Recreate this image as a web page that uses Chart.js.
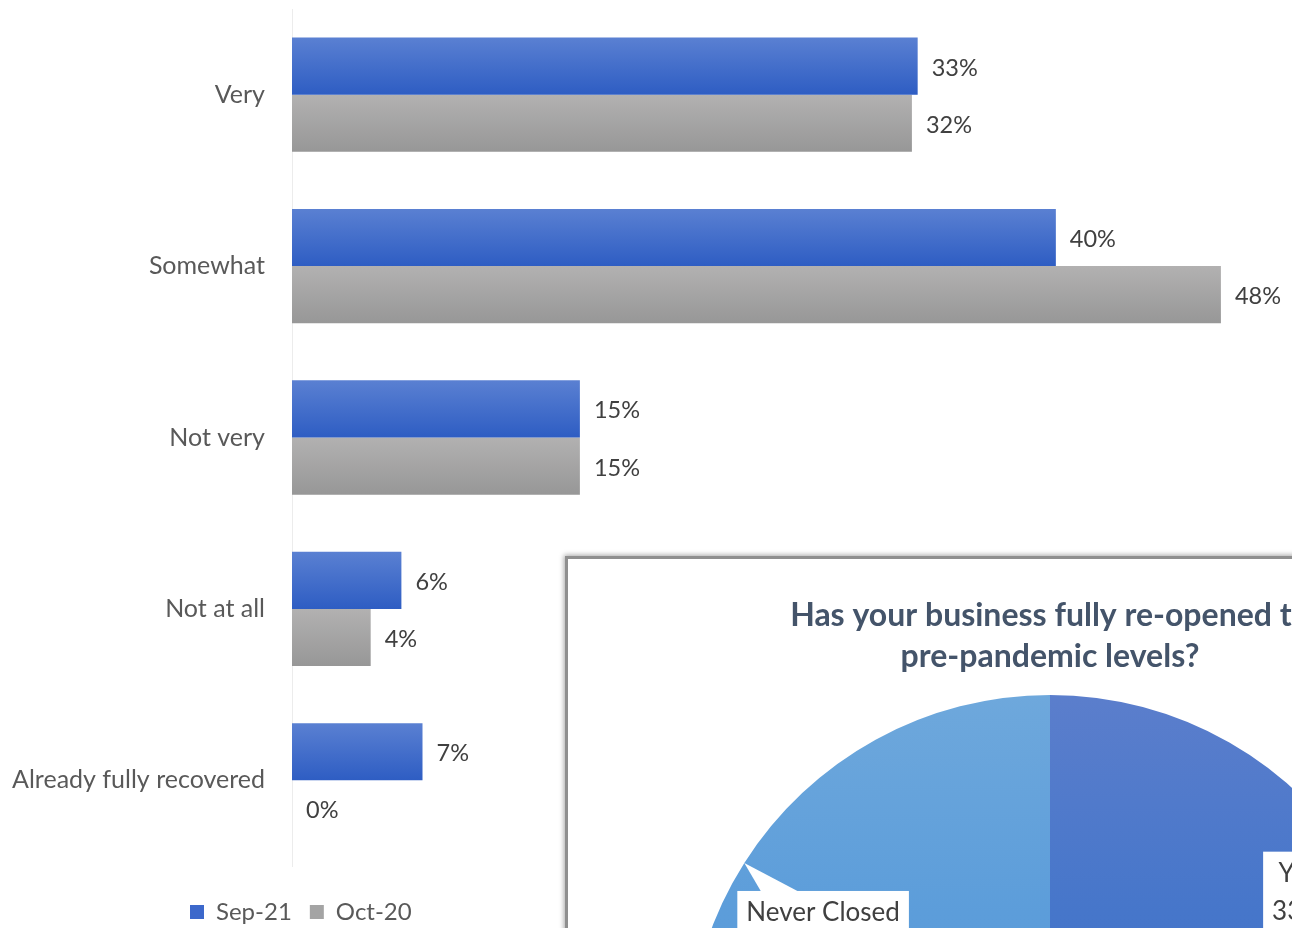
<!DOCTYPE html>
<html><head><meta charset="utf-8">
<script src="https://cdn.jsdelivr.net/npm/chart.js@4.4.1/dist/chart.umd.min.js"></script>
<style>
html,body{margin:0;padding:0;background:#fff;overflow:hidden;width:1292px;height:928px;}
#wrap{position:relative;width:1292px;height:928px;overflow:hidden;}
#bar{position:absolute;left:0;top:0;}
#inset{position:absolute;left:565px;top:556px;width:964px;height:880px;background:#fff;border:3px solid #8f8f8f;box-shadow:0 0 5px 1px rgba(0,0,0,0.35);}
#pie{position:absolute;left:0;top:0;}
</style></head><body>
<div id="wrap">
<canvas id="bar" width="1292" height="928"></canvas>
<div id="inset"><canvas id="pie" width="964" height="860"></canvas></div>
</div>
<script>
// ---- data (bar lengths; labels show rounded %) ----
const categories = ['Very', 'Somewhat', 'Not very', 'Not at all', 'Already fully recovered'];
const seriesNames = ['Sep-21', 'Oct-20'];
const sep21 = [32.6, 39.8, 15.0, 5.7, 6.8];
const oct20 = [32.3, 48.4, 15.0, 4.1, 0];
const pieTitle = ['Has your business fully re-opened to', 'pre-pandemic levels?'];
const pieLabels = ['Yes', 'No', 'Never Closed'];
const pieValues = [33, 35, 32];

const FONT = 'Lato';
const BLUE = '#3C68CB', GRAY = '#A4A4A4';
const barGrad = [['#5A80D2', '#2E5DC3'], ['#B2B1B1', '#979797']];

const gradientBars = {
  id: 'gradientBars',
  beforeDatasetDraw(chart, args) {
    const ctx = chart.ctx;
    const cols = barGrad[args.index];
    args.meta.data.forEach(el => {
      const p = el.getProps(['y', 'height'], true);
      const g = ctx.createLinearGradient(0, p.y - p.height / 2, 0, p.y + p.height / 2);
      g.addColorStop(0, cols[0]);
      g.addColorStop(1, cols[1]);
      el.options.backgroundColor = g;
    });
  }
};

const barLabels = {
  id: 'barLabels',
  afterDatasetsDraw(chart) {
    const ctx = chart.ctx;
    ctx.save();
    ctx.font = '23.5px ' + FONT;
    ctx.fillStyle = '#404040';
    ctx.textAlign = 'left';
    ctx.textBaseline = 'middle';
    chart.data.datasets.forEach((ds, di) => {
      chart.getDatasetMeta(di).data.forEach((el, i) => {
        const p = el.getProps(['x', 'y'], true);
        ctx.fillText(Math.round(ds.data[i]) + '%', p.x + 14, p.y + 2);
      });
    });
    ctx.restore();
  }
};

const legendShift = {
  id: 'legendShift',
  afterLayout(chart) {
    const lg = chart.legend;
    const w = lg.right - lg.left;
    lg.left = 172; lg.right = lg.left + w;
    lg.top += 16; lg.bottom += 16;
  }
};

new Chart(document.getElementById('bar'), {
  type: 'bar',
  data: {
    labels: categories,
    datasets: [
      { label: seriesNames[0], data: sep21, backgroundColor: () => BLUE, categoryPercentage: 0.667, barPercentage: 1.0 },
      { label: seriesNames[1], data: oct20, backgroundColor: () => GRAY, categoryPercentage: 0.667, barPercentage: 1.0 }
    ]
  },
  options: {
    indexAxis: 'y',
    responsive: false,
    animation: false,
    devicePixelRatio: 1,
    layout: { padding: { top: 9, right: 2, bottom: 10, left: 0 } },
    scales: {
      x: { display: false, min: 0, max: 52 },
      y: {
        grid: { display: false, drawTicks: false },
        border: { display: true, color: '#ececec', width: 1 },
        ticks: { color: '#595959', font: { family: FONT, size: 25 }, padding: 27 },
        afterFit(s) { s.width = 292; s.paddingTop = 0; s.paddingBottom = 0; }
      }
    },
    plugins: {
      legend: {
        position: 'bottom', align: 'start',
        labels: { boxWidth: 14, boxHeight: 14, padding: 18, color: '#595959', font: { family: FONT, size: 24 } }
      },
      tooltip: { enabled: false }
    }
  },
  plugins: [gradientBars, barLabels, legendShift]
});

// ---- pie inset ----
const pieGrad = [
  [[0, '#5B7ECC'], [0.3, '#4676CA'], [1, '#3F6EC6']],
  [[0, '#5B9BD5'], [1, '#4A86C8']],
  [[0, '#6EA8DC'], [0.3, '#5C9DDA'], [1, '#5597D9']]
];
const pieCallouts = {
  id: 'pieCallouts',
  afterDatasetsDraw(chart) {
    const ctx = chart.ctx;
    const arcs = chart.getDatasetMeta(0).data;
    ctx.save();
    ctx.font = '26px ' + FONT;
    ctx.textBaseline = 'middle';
    ctx.textAlign = 'center';
    // Never Closed callout
    {
      const a = arcs[2].getProps(['x', 'y', 'startAngle', 'endAngle', 'outerRadius'], true);
      const m = (a.startAngle + a.endAngle) / 2;
      const tx = a.x + a.outerRadius * Math.cos(m), ty = a.y + a.outerRadius * Math.sin(m);
      const text = pieLabels[2];
      const w = ctx.measureText(text).width + 18, h = 50;
      const left = tx - 7, top = ty + 28;
      ctx.fillStyle = '#ffffff';
      ctx.beginPath();
      ctx.moveTo(tx, ty); ctx.lineTo(left + 24, top + 1); ctx.lineTo(left + 62, top + 1); ctx.closePath(); ctx.fill();
      ctx.fillRect(left, top, w, h);
      ctx.fillStyle = '#404040';
      ctx.fillText(text, left + w / 2, top + 22);
    }
    // Yes callout
    {
      const a = arcs[0].getProps(['x', 'y', 'startAngle', 'endAngle', 'outerRadius'], true);
      const m = (a.startAngle + a.endAngle) / 2;
      const tx = a.x + a.outerRadius * Math.cos(m), ty = a.y + a.outerRadius * Math.sin(m);
      const l1 = pieLabels[0], l2 = pieValues[0] + '%';
      const w = Math.max(ctx.measureText(l1).width, ctx.measureText(l2).width) + 18, h = 80;
      const cx = tx - 64, top = ty - 21, left = cx - w / 2;
      ctx.fillStyle = '#ffffff';
      ctx.beginPath();
      ctx.moveTo(tx, ty); ctx.lineTo(left + w - 1, top + 10); ctx.lineTo(left + w - 1, top + 40); ctx.closePath(); ctx.fill();
      ctx.fillRect(left, top, w, h);
      ctx.fillStyle = '#404040';
      ctx.fillText(l1, cx, top + 22);
      ctx.fillText(l2, cx, top + 60);
    }
    ctx.restore();
  }
};

new Chart(document.getElementById('pie'), {
  type: 'pie',
  data: {
    labels: pieLabels,
    datasets: [{
      data: pieValues,
      borderWidth: 0,
      backgroundColor: (c) => {
        const ca = c.chart.chartArea;
        const stops = pieGrad[c.dataIndex] || pieGrad[0];
        if (!ca) return stops[0][1];
        const g = c.chart.ctx.createLinearGradient(0, ca.top, 0, ca.bottom);
        stops.forEach(s => g.addColorStop(s[0], s[1]));
        return g;
      }
    }]
  },
  options: {
    responsive: false,
    animation: false,
    devicePixelRatio: 1,
    layout: { padding: 0 },
    plugins: {
      legend: { display: false },
      tooltip: { enabled: false },
      title: {
        display: true,
        text: pieTitle,
        color: '#44546A',
        font: { family: FONT, size: 32, weight: 'bold', lineHeight: 1.28 },
        padding: { top: 36.5, bottom: 17.5 }
      }
    }
  },
  plugins: [pieCallouts]
});
</script>
</body></html>
